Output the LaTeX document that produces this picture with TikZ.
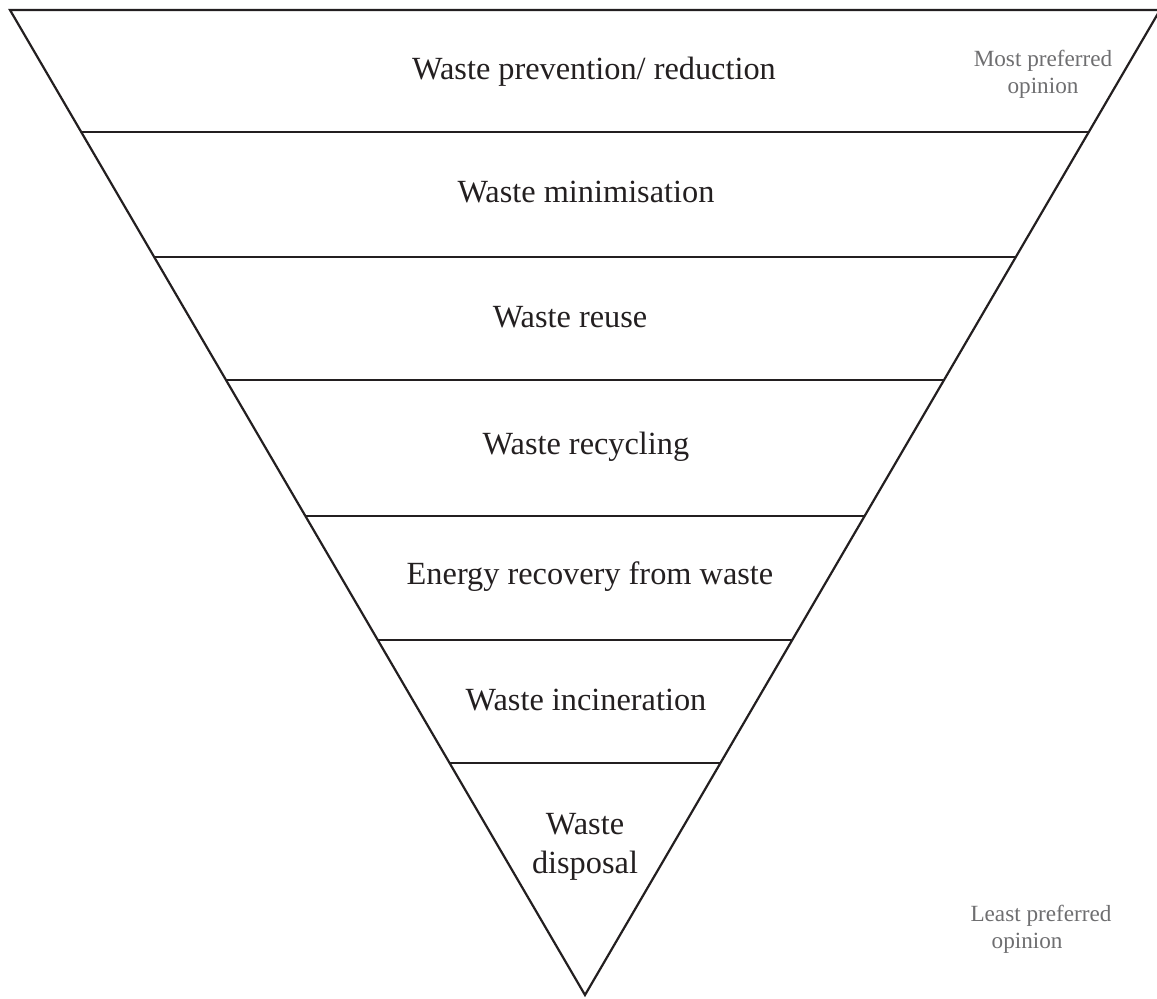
\documentclass[tikz,border=0pt]{standalone}
\usepackage{fontspec}
\setmainfont{Liberation Serif}
\usetikzlibrary{calc}
\definecolor{ink}{HTML}{231F20}
\definecolor{muted}{HTML}{6E6E70}
\tikzset{
  edge/.style={draw=ink, line width=1.25pt, line join=miter},
  tier/.style={text=ink, font=\fontsize{18.4}{22.5}\selectfont, align=center},
  note/.style={text=muted, font=\fontsize{13.2}{15.5}\selectfont, align=center},
}

\begin{document}
\begin{tikzpicture}[x=0.02cm,y=-0.02cm]
  \useasboundingbox (0,0) rectangle (1157,998);
  \coordinate (TL) at (10,10);
  \coordinate (TR) at (1160,10);
  \coordinate (A) at (585,995);
  \draw[edge] (TL)--(TR)--(A)--cycle;
  % tier boundaries
  \foreach \y [count=\i] in {132,257,380,516,640,763}{
    \draw[edge] ($(TL)!{(\y-10)/985}!(A)$) coordinate (l\i)
      -- ($(TR)!{(\y-10)/985}!(A)$) coordinate (r\i);
  }
  \node[tier] (prevent) at (594,72) {Waste prevention/ reduction};
  \node[tier] (minim) at (586,192) {Waste minimisation};
  \node[tier] (reuse) at (570,317) {Waste reuse};
  \node[tier] (recyc) at (586,447) {Waste recycling};
  \node[tier] (energy) at (590,577) {Energy recovery from waste};
  \node[tier] (incin) at (586,700) {Waste incineration};
  \node[tier] (dispo) at (585,847) {Waste\\disposal};
  \node[note] (most) at (1043,74) {Most preferred\\opinion};
  \node[note] (least) at (1041,929) {Least preferred\\\hspace*{-1.2em}opinion};
\end{tikzpicture}
\end{document}
